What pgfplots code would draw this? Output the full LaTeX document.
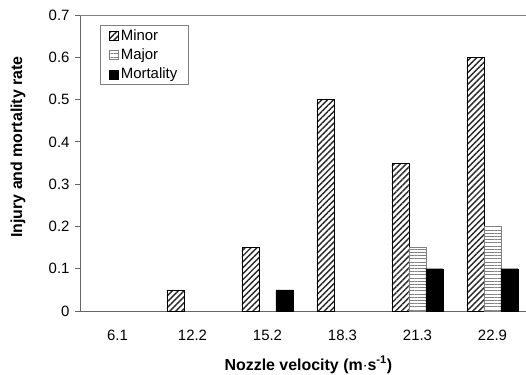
\documentclass[border=0pt]{standalone}
\usepackage{pgfplots}
\pgfplotsset{compat=1.18}
\usepackage{fontspec}
\setmainfont{Liberation Sans}
\usetikzlibrary{patterns,patterns.meta}
\begin{document}
\begin{tikzpicture}
\begin{axis}[
  scale only axis,
  width=446bp, height=296bp,
  xmin=-0.5, xmax=5.447,
  ymin=0, ymax=0.7,
  axis x line*=bottom, axis y line*=left,
  axis line style={draw=gray!80!black, thick},
  ytick={0,0.1,...,0.7},
  yticklabels={0,0.1,0.2,0.3,0.4,0.5,0.6,0.7},
  xtick={0,1,2,3,4,5},
  xticklabels={6.1,12.2,15.2,18.3,21.3,22.9},
  major x tick style={draw=none},
  extra x ticks={-0.5,0.5,1.5,2.5,3.5,4.5},
  extra x tick labels={},
  extra x tick style={tick style={draw=gray!80!black, thick}},
  tick align=outside,
  ytick style={draw=gray!80!black, thick},
  major tick length=5bp,
  tick pos=left,
  ticklabel style={font=\fontsize{15}{17}\selectfont},
  xticklabel style={anchor=center, yshift=-19bp},
  yticklabel style={xshift=-2bp},
  /pgf/number format/assume math mode=true,
  ylabel={\bfseries Injury and mortality rate},
  xlabel={\bfseries Nozzle velocity (m$\cdot$s\textsuperscript{-1})},
  label style={font=\fontsize{16}{18}\selectfont},
  ylabel style={at={(axis description cs:-0.139,0.554)}, anchor=center},
  xlabel style={at={(axis description cs:0.512,-0.182)}, anchor=center},
  ybar, bar width=17bp,
  legend style={at={(axis description cs:0.045,0.966)}, anchor=north west,
    draw=gray, thick, font=\fontsize{15}{17}\selectfont, inner xsep=9bp, inner ysep=2bp,
    row sep=3bp, cells={anchor=west}},
  legend image code/.code={\draw[#1, thin] (0bp,-4.5bp) rectangle (9bp,4.5bp);},
  clip=false,
]
\addplot[bar shift=-17bp, draw=black, semithick, pattern={Lines[angle=45, distance=4.2bp, line width=1.4bp]}, pattern color=black!85] coordinates {(1,0.05) (2,0.15) (3,0.5) (4,0.35) (5,0.6)};
\addplot[bar shift=0bp, draw=gray, semithick, pattern={Lines[angle=0, distance=3.2bp, line width=1bp]}, pattern color=gray] coordinates {(4,0.15) (5,0.2)};
\addplot[bar shift=17bp, draw=black, fill=black] coordinates {(2,0.05) (4,0.1) (5,0.1)};
\legend{Minor,Major,Mortality}
\draw[gray, thick] (rel axis cs:0,1) -- (rel axis cs:1,1);
\coordinate (ll) at (rel axis cs:0,0);
\coordinate (ur) at (rel axis cs:1,1);
\end{axis}
\pgfresetboundingbox
\path ([xshift=-80bp,yshift=-63bp]ll) rectangle ([yshift=15bp]ur);
\end{tikzpicture}
\end{document}
